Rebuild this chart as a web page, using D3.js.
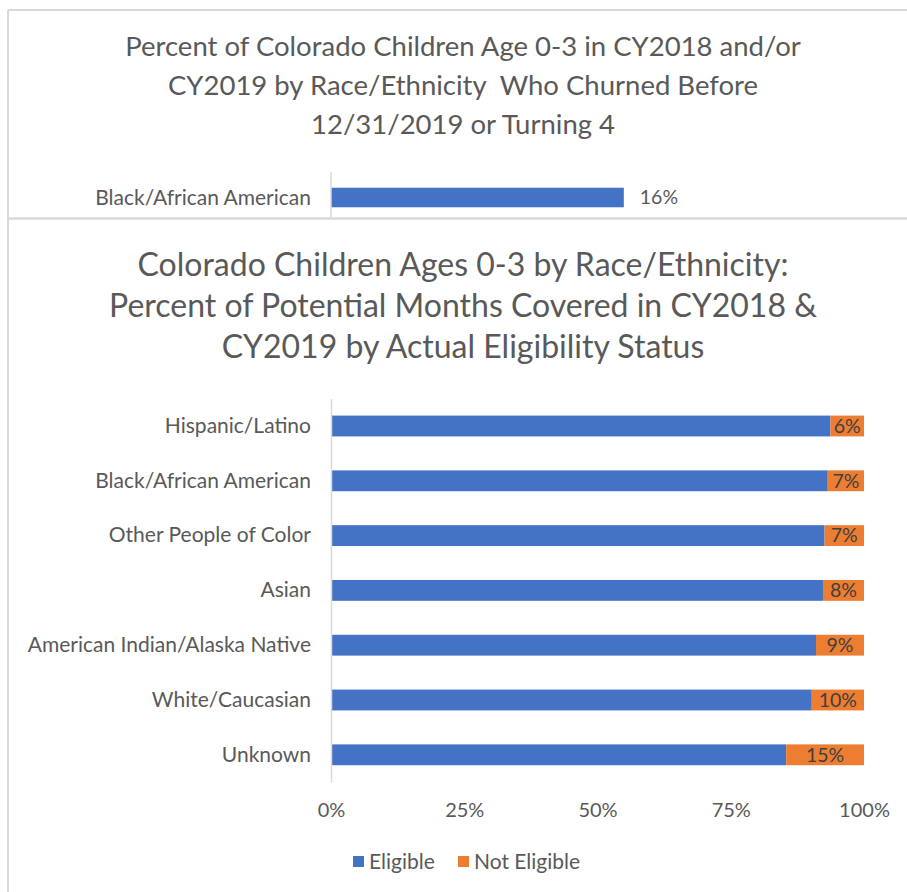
<!DOCTYPE html>
<html><head><meta charset="utf-8">
<script src="https://cdn.jsdelivr.net/npm/d3@7"></script>
<style>
body{margin:0;background:#fff;}
svg text{font-family:Lato,"Open Sans",sans-serif;}
</style>
</head><body>
<svg id="c" width="907" height="892"></svg>
<script>
// ---- data ----
const topTitleLines = ["Percent of Colorado Children Age 0-3 in CY2018 and/or",
                       "CY2019 by Race/Ethnicity  Who Churned Before",
                       "12/31/2019 or Turning 4"];
const topCategories = ["Black/African American"];
const topValues = [0.16];

const titleLines = ["Colorado Children Ages 0-3 by Race/Ethnicity:",
                    "Percent of Potential Months Covered in CY2018 &",
                    "CY2019 by Actual Eligibility Status"];
const categories = ["Hispanic/Latino","Black/African American","Other People of Color","Asian",
                    "American Indian/Alaska Native","White/Caucasian","Unknown"];
const eligible    = [0.937,0.932,0.926,0.923,0.910,0.902,0.854];
const notEligible = [0.063,0.068,0.074,0.077,0.090,0.098,0.146];
const xTicks = [0,0.25,0.5,0.75,1];
const seriesNames = ["Eligible","Not Eligible"];
const seriesColors = ["#4472C4","#ED7D31"];

// ---- drawing ----
const svg = d3.select("#c");
const pct = d3.format(".0%");
const gray = "#595959";
const borderColor = "#d9d9d9";

// chart frame borders
svg.append("line").attr("x1",8).attr("x2",8).attr("y1",10).attr("y2",892)
  .attr("stroke",borderColor).attr("stroke-width",2);
svg.append("line").attr("x1",8).attr("x2",907).attr("y1",10).attr("y2",10)
  .attr("stroke",borderColor).attr("stroke-width",2);

// ===== top (cropped) chart =====
svg.append("g").selectAll("text").data(topTitleLines).join("text")
  .attr("x",463).attr("y",(d,i)=>56+i*39)
  .attr("text-anchor","middle").attr("fill",gray)
  .style("white-space","pre")
  .style("font-size","27.5px").text(d=>d);

const xTop = d3.scaleLinear().domain([0,0.30]).range([331,880]);
const yTop = d3.scaleBand().domain(topCategories).range([176,219]).paddingInner(0).paddingOuter(0.6);

svg.append("g").selectAll("rect").data(topValues).join("rect")
  .attr("x",xTop(0)).attr("y",(d,i)=>yTop(topCategories[i]))
  .attr("width",d=>xTop(d)-xTop(0)).attr("height",yTop.bandwidth())
  .attr("fill",seriesColors[0]);
svg.append("g").selectAll("text").data(topValues).join("text")
  .attr("x",d=>xTop(d)+16).attr("y",(d,i)=>yTop(topCategories[i])+yTop.bandwidth()/2)
  .attr("dy","0.35em").attr("fill",gray).style("font-size","19.5px").text(d=>pct(d));
svg.append("g").selectAll("text").data(topCategories).join("text")
  .attr("x",311).attr("y",d=>yTop(d)+yTop.bandwidth()/2).attr("dy","0.35em")
  .attr("text-anchor","end").attr("fill",gray).style("font-size","21px").text(d=>d);
svg.append("line").attr("x1",xTop(0)).attr("x2",xTop(0)).attr("y1",172).attr("y2",218)
  .attr("stroke",borderColor).attr("stroke-width",1.5);

// separator (bottom border of top chart)
svg.append("line").attr("x1",8).attr("x2",907).attr("y1",218.5).attr("y2",218.5)
  .attr("stroke",borderColor).attr("stroke-width",2.5);

// ===== main chart =====
svg.append("g").selectAll("text").data(titleLines).join("text")
  .attr("x",463).attr("y",(d,i)=>276+i*41)
  .attr("text-anchor","middle").attr("fill",gray)
  .style("font-size","32px").text(d=>d);

const x = d3.scaleLinear().domain([0,1]).range([331,864]);
const y = d3.scaleBand().domain(categories).range([398.6,782.2]).paddingInner(0.62).paddingOuter(0.31);

const rows = categories.map((c,i)=>({cat:c, vals:[eligible[i], notEligible[i]]}));
const stackKeys = [0,1];
const stacked = d3.stack().keys(stackKeys).value((d,k)=>d.vals[k])(rows);

const series = svg.append("g").selectAll("g").data(stacked).join("g")
  .attr("fill",(d,i)=>seriesColors[i]);
series.selectAll("rect").data(d=>d).join("rect")
  .attr("x",d=>x(d[0])).attr("y",d=>y(d.data.cat))
  .attr("width",d=>x(d[1])-x(d[0])).attr("height",y.bandwidth());

// labels for Not Eligible
svg.append("g").selectAll("text").data(stacked[1]).join("text")
  .attr("x",d=>(x(d[0])+x(d[1]))/2).attr("y",d=>y(d.data.cat)+y.bandwidth()/2)
  .attr("dy","0.35em").attr("text-anchor","middle").attr("fill","#404040")
  .style("font-size","19.5px").text(d=>pct(d.data.vals[1]));

// y axis
const yAxis = svg.append("g").attr("transform",`translate(${x(0)},0)`)
  .call(d3.axisLeft(y).tickSize(0).tickPadding(20));
yAxis.select(".domain").attr("stroke",borderColor).attr("stroke-width",1.5);
yAxis.selectAll("text").attr("fill",gray).style("font-size","21px");

// x axis (labels only)
const xAxis = svg.append("g").attr("transform",`translate(0,${782})`)
  .call(d3.axisBottom(x).tickValues(xTicks).tickFormat(pct).tickSize(0).tickPadding(21));
xAxis.select(".domain").remove();
xAxis.selectAll("text").attr("fill",gray).style("font-size","20px");

// legend
const legendX = [353, 458];
const lg = svg.append("g").selectAll("g").data(seriesNames).join("g")
  .attr("transform",(d,i)=>`translate(${legendX[i]},856)`);
lg.append("rect").attr("width",11).attr("height",11).attr("fill",(d,i)=>seriesColors[i]);
lg.append("text").attr("x",16).attr("y",5.5).attr("dy","0.35em").attr("fill",gray)
  .style("font-size","21px").text(d=>d);
</script>
</body></html>
